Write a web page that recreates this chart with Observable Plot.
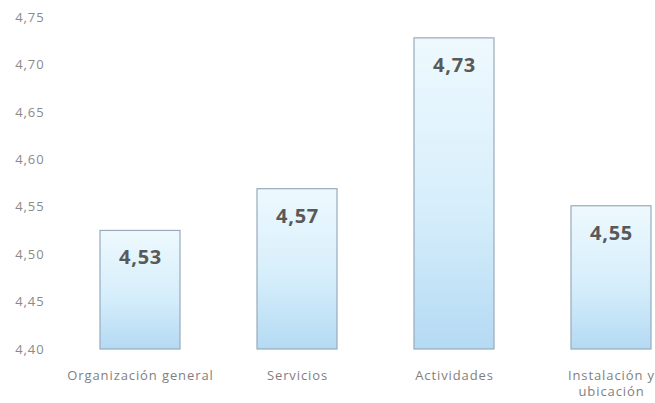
<!DOCTYPE html>
<html>
<head>
<meta charset="utf-8">
<script src="https://cdn.jsdelivr.net/npm/d3@7"></script>
<script src="https://cdn.jsdelivr.net/npm/@observablehq/plot@0.6"></script>
<style>
  html, body { margin: 0; padding: 0; background: #fff; }
  #chart svg { overflow: visible; }
  #chart svg g[aria-label="y-axis tick label"] text,
  #chart svg g[aria-label="x-axis tick label"] text { letter-spacing: 0.9px; }
</style>
</head>
<body>
<div id="chart"></div>
<script>
const categories = ["Organización general", "Servicios", "Actividades", "Instalación y\nubicación"];
const values = [4.525, 4.569, 4.728, 4.551];
const valueLabels = ["4,53", "4,57", "4,73", "4,55"];
const yTicks = [4.40, 4.45, 4.50, 4.55, 4.60, 4.65, 4.70, 4.75];

const data = categories.map((c, i) => ({cat: c, value: values[i], label: valueLabels[i]}));

const chart = Plot.plot({
  width: 655,
  height: 403,
  marginTop: 17,
  marginBottom: 54,
  marginLeft: 96,
  marginRight: 0,
  style: {fontFamily: "'Open Sans', sans-serif", fontSize: "13px", color: "#8a8a8a", background: "#fff"},
  x: {domain: categories, padding: 0.49, paddingOuter: 0.025, label: null},
  y: {domain: [4.40, 4.75], label: null},
  marks: [
    Plot.axisY({ticks: yTicks, tickSize: 0, tickPadding: 52, tickFormat: d => d.toFixed(2).replace(".", ","), fill: "#8a8a8a", fontSize: 13}),
    Plot.axisX({tickSize: 0, tickPadding: 18, fill: "#7f7f7f", fontSize: 13, lineHeight: 1.3}),
    Plot.rect(data, {
      x: "cat", y1: 4.40, y2: "value",
      fill: "url(#barGrad)", stroke: "#98aabb", strokeWidth: 1.2
    }),
    Plot.text(data, {
      x: "cat", y: "value", text: "label", dy: 27,
      fill: "#595959", fontWeight: "bold", fontSize: 20,
      fontFamily: "'Open Sans', sans-serif"
    })
  ]
});

// gradient definition
const ns = "http://www.w3.org/2000/svg";
const defs = document.createElementNS(ns, "defs");
const grad = document.createElementNS(ns, "linearGradient");
grad.setAttribute("id", "barGrad");
grad.setAttribute("x1", "0"); grad.setAttribute("y1", "0");
grad.setAttribute("x2", "0"); grad.setAttribute("y2", "1");
[["0%", "#eef9fe"], ["55%", "#d6eefb"], ["100%", "#b4daf3"]].forEach(([o, c]) => {
  const s = document.createElementNS(ns, "stop");
  s.setAttribute("offset", o); s.setAttribute("stop-color", c);
  grad.appendChild(s);
});
defs.appendChild(grad);
chart.insertBefore(defs, chart.firstChild);

// letter spacing on value labels
chart.querySelectorAll('g[aria-label="text"] text').forEach(t => t.style.letterSpacing = "0.8px");

document.getElementById("chart").appendChild(chart);
</script>
</body>
</html>
